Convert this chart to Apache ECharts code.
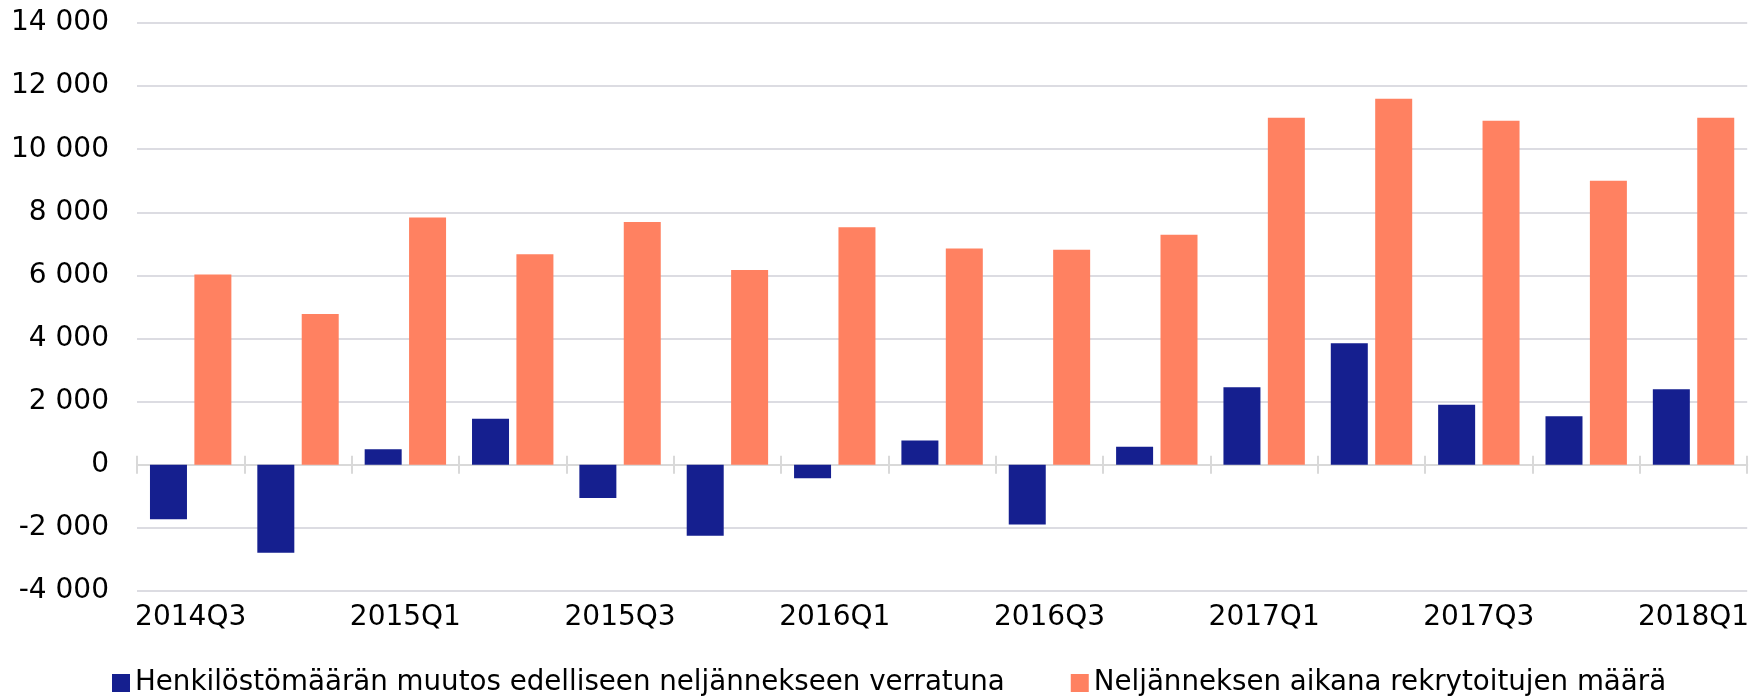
<!DOCTYPE html>
<html>
<head>
<meta charset="utf-8">
<script src="https://cdn.jsdelivr.net/npm/echarts@6/dist/echarts.min.js"></script>
<style>
html,body{margin:0;padding:0;background:#fff;}
#chart{width:1752px;height:696px;}
</style>
</head>
<body>
<div id="chart"></div>
<script>
const categories = ['2014Q3','2014Q4','2015Q1','2015Q2','2015Q3','2015Q4','2016Q1','2016Q2','2016Q3','2016Q4','2017Q1','2017Q2','2017Q3','2017Q4','2018Q1'];
const staffChange = [-1730, -2790, 490, 1460, -1050, -2250, -430, 770, -1890, 570, 2460, 3850, 1900, 1540, 2390];
const recruited = [6030, 4780, 7840, 6670, 7690, 6170, 7525, 6850, 6815, 7290, 11000, 11600, 10900, 9000, 11000];
const seriesNames = ['Henkilöstömäärän muutos edelliseen neljännekseen verratuna', 'Neljänneksen aikana rekrytoitujen määrä'];
const yMin = -4000, yMax = 14000, yStep = 2000;

const FONT = '"DejaVu Sans", Verdana, sans-serif';
const chart = echarts.init(document.getElementById('chart'), null, {renderer: 'canvas'});
const fmt = v => {
  const s = Math.abs(v).toString().replace(/\B(?=(\d{3})+(?!\d))/g, ' ');
  return (v < 0 ? '-' : '') + s;
};
const axisGray = '#D9D9D9';
chart.setOption({
  animation: false,
  textStyle: {fontFamily: FONT},
  grid: {left: 137, right: 2, top: 23, bottom: 105, containLabel: false},
  legend: {
    left: 107, top: 664,
    itemWidth: 18, itemHeight: 18, itemGap: 66,
    icon: 'rect',
    textStyle: {fontFamily: FONT, fontSize: 27.7, color: '#000'},
    data: seriesNames
  },
  xAxis: [
    {
      type: 'category', data: categories, position: 'bottom',
      axisLine: {show: false, onZero: false},
      axisTick: {show: false},
      axisLabel: {interval: 1, fontFamily: FONT, fontSize: 28, color: '#000', margin: 13}
    },
    {
      type: 'category', data: categories, position: 'bottom',
      axisLine: {show: true, onZero: true, onZeroAxisIndex: 0, lineStyle: {color: axisGray, width: 2}},
      axisTick: {show: true, length: 9, lineStyle: {color: axisGray, width: 2}},
      axisLabel: {show: false}
    },
    {
      type: 'category', data: categories, position: 'top',
      axisLine: {show: true, onZero: true, onZeroAxisIndex: 0, lineStyle: {color: axisGray, width: 2}},
      axisTick: {show: true, length: 9, lineStyle: {color: axisGray, width: 2}},
      axisLabel: {show: false}
    }
  ],
  yAxis: {
    type: 'value', min: yMin, max: yMax, interval: yStep,
    axisLine: {show: false}, axisTick: {show: false},
    axisLabel: {formatter: fmt, fontFamily: FONT, fontSize: 28, color: '#000', margin: 28},
    splitLine: {show: true, lineStyle: {color: '#DCDCE2', width: 2}}
  },
  series: [
    {name: seriesNames[0], type: 'bar', data: staffChange, barWidth: 37, barGap: '20%', itemStyle: {color: '#151F8F'}},
    {name: seriesNames[1], type: 'bar', data: recruited, barWidth: 37, barGap: '20%', itemStyle: {color: '#FF8161'}}
  ]
});
</script>
</body>
</html>
